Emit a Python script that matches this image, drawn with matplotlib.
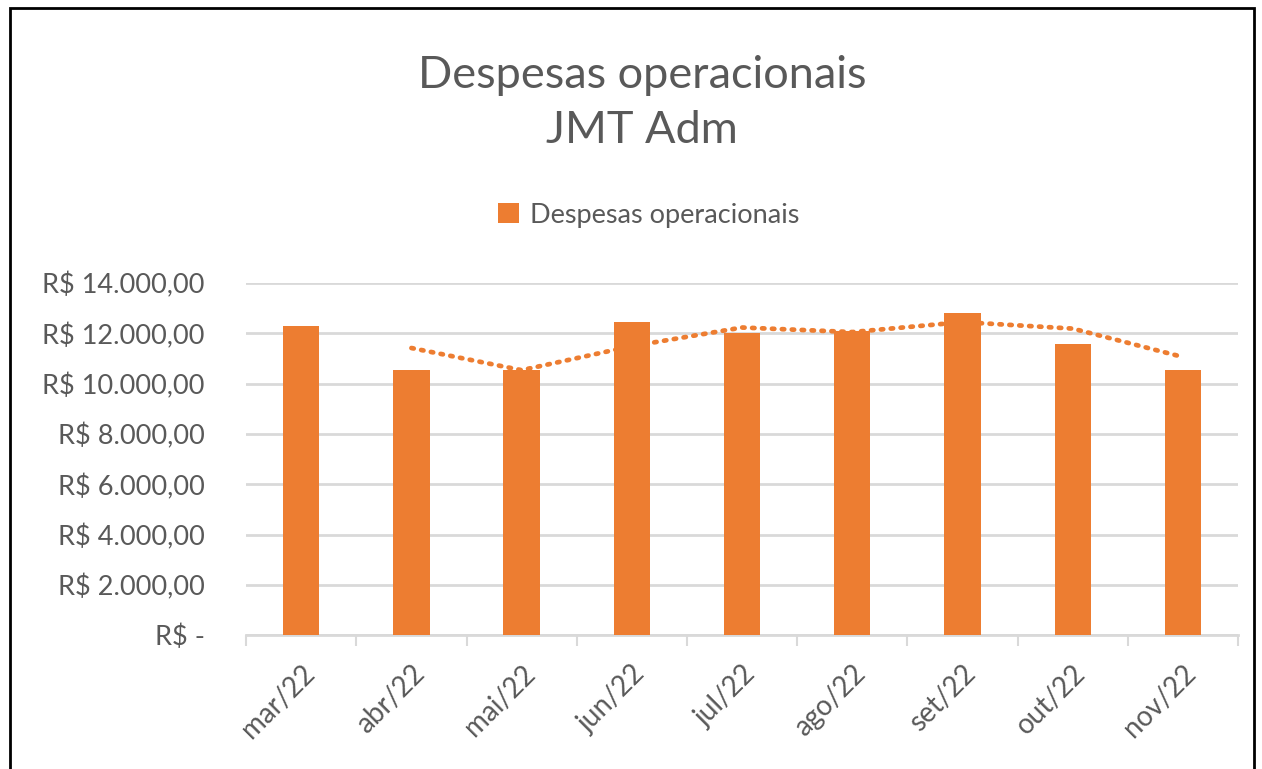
import numpy as np
import matplotlib.pyplot as plt
from matplotlib.patches import Rectangle

plt.rcParams["font.family"] = ["Lato", "DejaVu Sans"]

meses = ["mar/22", "abr/22", "mai/22", "jun/22", "jul/22", "ago/22", "set/22", "out/22", "nov/22"]
despesas = [12290, 10540, 10530, 12450, 12010, 12090, 12800, 11575, 10540]

laranja = "#ED7D31"
cinza = "#595959"

fig = plt.figure(figsize=(12.62, 7.69), dpi=100)
ax = fig.add_axes([0.195, 0.174, 0.786, 0.458])

x = np.arange(len(meses))
ax.bar(x, despesas, width=0.33, color=laranja, label="Despesas operacionais", zorder=3)

# media movel de 2 periodos (linha de tendencia)
mm = [(despesas[i - 1] + despesas[i]) / 2 for i in range(1, len(despesas))]
ax.plot(x[1:], mm, color=laranja, linestyle=(0, (0.5, 1.6)), linewidth=3.4,
        dash_capstyle="round", zorder=4)

ax.set_xlim(-0.5, len(meses) - 0.5)
ax.set_ylim(0, 14000)
ax.set_yticks(range(0, 14001, 2000))
ylabels = ["R$ -"] + ["R$ " + f"{v:,.2f}".replace(",", "X").replace(".", ",").replace("X", ".") for v in range(2000, 14001, 2000)]
ax.set_yticklabels(ylabels, fontsize=19.5, color=cinza)
ax.tick_params(axis="y", length=0, pad=30)
ax.grid(axis="y", color="#D9D9D9", linewidth=2, zorder=0)

ax.set_xticks(x)
ax.set_xticklabels(meses, rotation=45, ha="right", rotation_mode="anchor", fontsize=20, color=cinza)
ax.set_xticks(np.arange(-0.5, len(meses)), minor=True)
ax.tick_params(axis="x", which="major", length=0, pad=18)
ax.tick_params(axis="x", which="minor", length=8, width=1.5, color="#D9D9D9")

for s in ["top", "right", "left"]:
    ax.spines[s].set_visible(False)
ax.spines["bottom"].set_color("#D9D9D9")
ax.spines["bottom"].set_linewidth(2)

fig.text(0.509, 0.902, "Despesas operacionais", ha="center", va="center", fontsize=32.5, color=cinza)
fig.text(0.509, 0.830, "JMT Adm", ha="center", va="center", fontsize=32.5, color=cinza)

ax.legend(loc="center", frameon=False, fontsize=19.5, labelcolor=cinza,
          handlelength=0.75, handleheight=0.75, handletextpad=0.4)
leg = ax.get_legend()
leg.set_bbox_to_anchor((0.514, 0.72), transform=fig.transFigure)

fig.patches.append(Rectangle((0.008, -0.05), 0.986, 1.04, transform=fig.transFigure,
                             fill=False, edgecolor="black", linewidth=2))

fig.savefig("out.png", dpi=100)
